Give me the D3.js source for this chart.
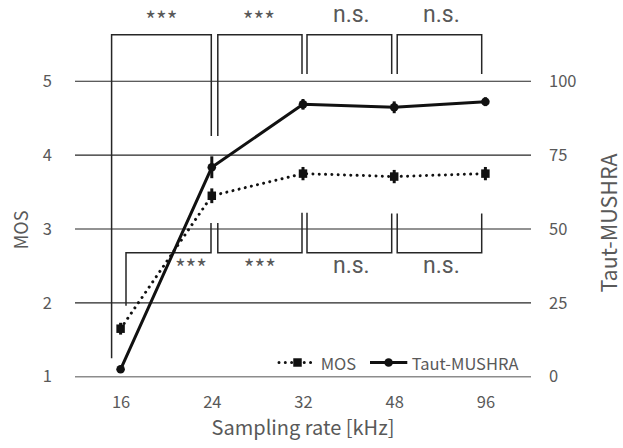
<!DOCTYPE html>
<html><head><meta charset="utf-8">
<script src="https://cdn.jsdelivr.net/npm/d3@7"></script>
<style>body{margin:0;background:#fff} svg{display:block} text{font-family:"Noto Sans CJK JP","Noto Sans",sans-serif;fill:#595959}</style>
</head><body><svg id="c" width="623" height="448"></svg>
<script>
// ---- data ----
const categories = ["16","24","32","48","96"];
const mosValues = [1.65, 3.45, 3.75, 3.71, 3.75];
const mosErrors = [0.08, 0.10, 0.09, 0.09, 0.09];
const mushraValues = [2.5, 70.9, 92.2, 91.2, 93.1];
const mushraErrors = [1.2, 3.7, 1.8, 2.0, 1.5];
const mosTicks = [1,2,3,4,5];
const mushraTicks = [0,25,50,75,100];
const seriesNames = ["MOS","Taut-MUSHRA"];
const sigPairs = [["16","24"],["24","32"],["32","48"],["48","96"]];
const topSigLabels = ["***","***","n.s.","n.s."];
const bottomSigLabels = ["***","***","n.s.","n.s."];
// bracket geometry in MOS units (bar level, leg end at "from", leg end at "to")
const topBarLevel = 5.63;
const topLegEnds = [[1.25,4.26],[4.26,5.1],[5.1,5.1],[5.1,5.1]];
const bottomBarLevel = 2.68;
const bottomLegEnds = [[1.96,3.08],[3.08,3.22],[3.22,3.21],[3.21,3.21]];

// ---- styling constants ----
const topLegDx = [[-9,-0.5],[6,-1],[4,-2.5],[3,-3.7]];
const bottomLegDx = [[5.4,-0.8],[6,-1],[4,-2.5],[3,-3.7]];
const bottomLabelDx = [22.5,0,2,2];
const topLabelDx = [0,-1,2,2];
const starBaseline = {top:28.7, bottom:277.4};
const nsBaseline = {top:22, bottom:272.8};

const svg = d3.select("#c");
const x = d3.scalePoint().domain(categories).range([75,531]).padding(0.5);
const yL = d3.scaleLinear().domain([1,5]).range([376.7,81.3]);
const yR = d3.scaleLinear().domain([0,100]).range([376.7,81.3]);
const x0 = 75, x1 = 531;

// gridlines
svg.append("g").selectAll("line").data(mosTicks.filter(d=>d!==1)).join("line")
  .attr("x1",x0).attr("x2",x1).attr("y1",d=>yL(d)).attr("y2",d=>yL(d))
  .attr("stroke","#262626").attr("stroke-width",1.1);
svg.append("line").attr("x1",x0).attr("x2",x1).attr("y1",yL(1)).attr("y2",yL(1))
  .attr("stroke","#8c8c8c").attr("stroke-width",1.6);

// axes (labels only)
const axL = svg.append("g").attr("transform",`translate(${x0},0)`)
  .call(d3.axisLeft(yL).tickValues(mosTicks).tickFormat(d3.format("d")).tickSize(0).tickPadding(23));
const axR = svg.append("g").attr("transform",`translate(${x1},0)`)
  .call(d3.axisRight(yR).tickValues(mushraTicks).tickFormat(d3.format("d")).tickSize(0).tickPadding(18));
const axB = svg.append("g").attr("transform",`translate(0,${yL(1)})`)
  .call(d3.axisBottom(x).tickSize(0).tickPadding(20));
[axL,axR,axB].forEach(a=>{
  a.select(".domain").remove();
  a.selectAll("text").style("font-size","16.5px").style("font-family",'"Noto Sans CJK JP"').attr("fill","#595959");
});

// axis titles
svg.append("text").attr("x",303).attr("y",435).attr("text-anchor","middle")
  .style("font-size","20px").text("Sampling rate [kHz]");
svg.append("text").attr("transform","translate(20,230) rotate(-90)").attr("text-anchor","middle")
  .attr("dominant-baseline","central").style("font-size","18px").text("MOS");
svg.append("text").attr("transform","translate(607,223) rotate(-90)").attr("text-anchor","middle")
  .attr("dominant-baseline","central").style("font-size","21.5px").text("Taut-MUSHRA");

// significance brackets
const br = svg.append("g").attr("fill","none").attr("stroke","#262626").attr("stroke-width",1.5);
function sigText(lbl, xPos, where){
  const isStar = lbl.startsWith("*");
  const t = svg.append("text").attr("x",xPos).attr("text-anchor","middle").text(lbl);
  if (isStar) t.attr("y",starBaseline[where]).style("font-size","23px");
  else t.attr("y",nsBaseline[where]).style("font-size","23px").style("font-family","Roboto");
}
sigPairs.forEach((p,i)=>{
  const xa = x(p[0])+topLegDx[i][0], xb = x(p[1])+topLegDx[i][1];
  br.append("path").attr("d",`M${xa},${yL(topLegEnds[i][0])}V${yL(topBarLevel)}H${xb}V${yL(topLegEnds[i][1])}`);
  const xc = x(p[0])+bottomLegDx[i][0], xd = x(p[1])+bottomLegDx[i][1];
  br.append("path").attr("d",`M${xc},${yL(bottomLegEnds[i][0])}V${yL(bottomBarLevel)}H${xd}V${yL(bottomLegEnds[i][1])}`);
  sigText(topSigLabels[i], (xa+xb)/2+topLabelDx[i], "top");
  sigText(bottomSigLabels[i], (xc+xd)/2+bottomLabelDx[i], "bottom");
});

// series
const mosPts = categories.map((c,i)=>[x(c), yL(mosValues[i])]);
const musPts = categories.map((c,i)=>[x(c), yR(mushraValues[i])]);
svg.append("path").attr("d",d3.line()(mosPts)).attr("fill","none").attr("stroke","#111")
  .attr("stroke-width",3).attr("stroke-dasharray","0.01 6.3").attr("stroke-linecap","round");
svg.append("path").attr("d",d3.line()(musPts)).attr("fill","none").attr("stroke","#111")
  .attr("stroke-width",3);

// error bars
svg.append("g").selectAll("line").data(categories).join("line")
  .attr("x1",d=>x(d)).attr("x2",d=>x(d))
  .attr("y1",(d,i)=>yL(mosValues[i]-mosErrors[i])).attr("y2",(d,i)=>yL(mosValues[i]+mosErrors[i]))
  .attr("stroke","#111").attr("stroke-width",3);
svg.append("g").selectAll("line").data(categories).join("line")
  .attr("x1",d=>x(d)).attr("x2",d=>x(d))
  .attr("y1",(d,i)=>yR(mushraValues[i]-mushraErrors[i])).attr("y2",(d,i)=>yR(mushraValues[i]+mushraErrors[i]))
  .attr("stroke","#111").attr("stroke-width",3);

// markers
const sq = d3.symbol().type(d3.symbolSquare).size(72);
svg.append("g").selectAll("path").data(mosPts).join("path")
  .attr("transform",d=>`translate(${d[0]},${d[1]})`).attr("d",sq()).attr("fill","#111");
svg.append("g").selectAll("circle").data(musPts).join("circle")
  .attr("cx",d=>d[0]).attr("cy",d=>d[1]).attr("r",4.3).attr("fill","#111");

// legend
const ly = 362.5;
const lg = svg.append("g");
lg.append("line").attr("x1",279).attr("x2",315).attr("y1",ly).attr("y2",ly).attr("stroke","#111")
  .attr("stroke-width",3).attr("stroke-dasharray","0.01 6.3").attr("stroke-linecap","round");
lg.append("path").attr("transform",`translate(297.5,${ly})`).attr("d",sq()).attr("fill","#111");
lg.append("text").attr("x",320.7).attr("y",ly).attr("dominant-baseline","central").style("font-size","16.5px").text(seriesNames[0]);
lg.append("line").attr("x1",370).attr("x2",407.3).attr("y1",ly).attr("y2",ly).attr("stroke","#111").attr("stroke-width",3);
lg.append("circle").attr("cx",388.6).attr("cy",ly).attr("r",4.3).attr("fill","#111");
lg.append("text").attr("x",411.7).attr("y",ly).attr("dominant-baseline","central").style("font-size","16.5px").text(seriesNames[1]);
</script></body></html>
